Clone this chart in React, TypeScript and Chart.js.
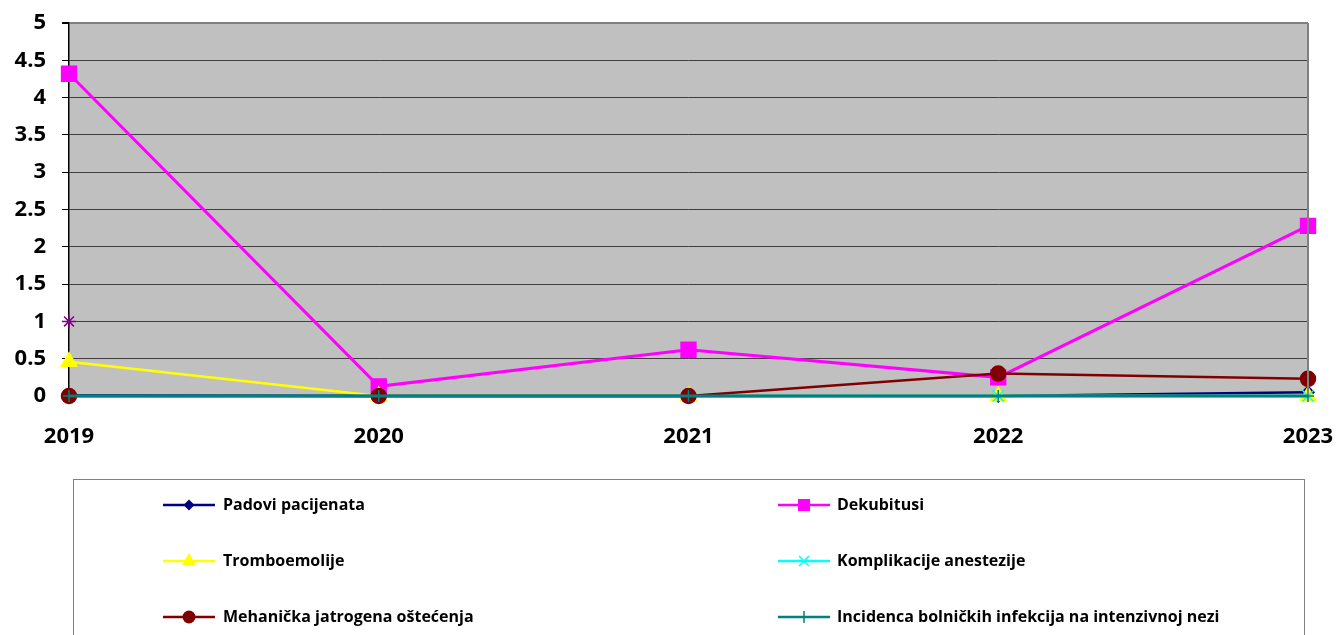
import React, { useEffect, useRef } from "react";
import { Chart, registerables } from "chart.js";

Chart.register(...registerables);

const years = ["2019", "2020", "2021", "2022", "2023"];
const padoviPacijenata = [0.01, 0, 0, 0, 0.05];
const dekubitusi = [4.32, 0.13, 0.62, 0.25, 2.28];
const tromboemolije = [0.46, 0, 0, 0, 0];
const komplikacijeAnestezije = [0, 0, 0, 0, 0];
const mehanickaOstecenja = [0, 0, 0, 0.3, 0.23];
const incidencaInfekcija = [0, 0, 0, 0, 0];
const sedmaSerija = [1, null, null, null, null];
const yTicks = [0, 0.5, 1, 1.5, 2, 2.5, 3, 3.5, 4, 4.5, 5];

const seriesNames = [
  "Padovi pacijenata",
  "Dekubitusi",
  "Tromboemolije",
  "Komplikacije anestezije",
  "Mehanička jatrogena oštećenja",
  "Incidenca bolničkih infekcija na intenzivnoj nezi",
];

const FONT = "'Open Sans', sans-serif";

function drawMarker(ctx: CanvasRenderingContext2D, style: string, r: number, x: number, y: number, color: string) {
  ctx.save();
  ctx.fillStyle = color;
  ctx.strokeStyle = color;
  ctx.lineWidth = 1.5;
  ctx.beginPath();
  if (style === "rectRot") {
    ctx.moveTo(x, y - r);
    ctx.lineTo(x + r, y);
    ctx.lineTo(x, y + r);
    ctx.lineTo(x - r, y);
    ctx.closePath();
    ctx.fill();
  } else if (style === "rect") {
    const s = r * Math.SQRT1_2;
    ctx.rect(x - s, y - s, 2 * s, 2 * s);
    ctx.fill();
  } else if (style === "triangle") {
    const h = (r * 3) / 2;
    const e = r * Math.sqrt(3);
    ctx.moveTo(x, y - r);
    ctx.lineTo(x + e / 2, y + h - r);
    ctx.lineTo(x - e / 2, y + h - r);
    ctx.closePath();
    ctx.fill();
  } else if (style === "circle") {
    ctx.arc(x, y, r, 0, Math.PI * 2);
    ctx.fill();
  } else if (style === "crossRot") {
    const o = r * Math.SQRT1_2;
    ctx.moveTo(x - o, y - o);
    ctx.lineTo(x + o, y + o);
    ctx.moveTo(x - o, y + o);
    ctx.lineTo(x + o, y - o);
    ctx.stroke();
  } else if (style === "cross") {
    ctx.moveTo(x, y - r);
    ctx.lineTo(x, y + r);
    ctx.moveTo(x - r, y);
    ctx.lineTo(x + r, y);
    ctx.stroke();
  }
  ctx.restore();
}

const legendMarkerRadius = [5.5, 8.5, 8, 7, 6.5, 6];

const plotPlugin = {
  id: "plotDecor",
  beforeDraw(chart: any) {
    const { ctx, chartArea } = chart;
    const { left, top, right, bottom } = chartArea;
    ctx.save();
    ctx.fillStyle = "#C0C0C0";
    ctx.fillRect(left, top, right - left, bottom - top);
    ctx.restore();
  },
  afterDatasetsDraw(chart: any) {
    const { ctx, chartArea } = chart;
    const { top, right, bottom } = chartArea;
    ctx.save();
    ctx.strokeStyle = "#808080";
    ctx.lineWidth = 2;
    ctx.beginPath();
    ctx.moveTo(right, top);
    ctx.lineTo(right, bottom - 1);
    ctx.stroke();
    ctx.restore();
  },
  afterDraw(chart: any) {
    const { ctx } = chart;
    ctx.save();
    // legend box
    ctx.strokeStyle = "#808080";
    ctx.lineWidth = 1;
    ctx.strokeRect(73.5, 479.5, 1231, 300);

    ctx.font = `bold 16px ${FONT}`;
    ctx.textBaseline = "middle";
    ctx.textAlign = "left";
    const ds = chart.data.datasets;
    for (let i = 0; i < seriesNames.length; i++) {
      const d = ds[i];
      const col = i % 2;
      const row = Math.floor(i / 2);
      const y = 505 + row * 56;
      const x0 = col === 0 ? 163 : 778;
      ctx.strokeStyle = d.borderColor;
      ctx.lineWidth = 2.5;
      ctx.beginPath();
      ctx.moveTo(x0, y);
      ctx.lineTo(x0 + 52, y);
      ctx.stroke();
      drawMarker(ctx, d.pointStyle, legendMarkerRadius[i], x0 + 26, y, d.pointBackgroundColor);
      ctx.fillStyle = "#000";
      ctx.fillText(seriesNames[i], col === 0 ? 223 : 837, y);
    }
    ctx.restore();
  },
};

export default function App() {
  const ref = useRef<HTMLCanvasElement>(null);
  useEffect(() => {
    if (!ref.current) return;
    const mk = (label: string, data: any[], color: string, style: string, r: number, bw: number, order: number) => ({
      label,
      data,
      borderColor: color,
      backgroundColor: color,
      pointBackgroundColor: color,
      pointBorderColor: color,
      pointStyle: style,
      pointRadius: r,
      pointBorderWidth: 1.5,
      borderWidth: bw,
      tension: 0,
      spanGaps: false,
      clip: false,
      order,
    });
    const chart = new Chart(ref.current, {
      type: "line",
      data: {
        labels: years,
        datasets: [
          mk(seriesNames[0], padoviPacijenata, "#000080", "rectRot", 6, 2.5, 10),
          mk(seriesNames[1], dekubitusi, "#FF00FF", "rect", 10.5, 3, 9),
          mk(seriesNames[2], tromboemolije, "#FFFF00", "triangle", 9, 2.5, 8),
          mk(seriesNames[3], komplikacijeAnestezije, "#00FFFF", "crossRot", 8, 2.5, 7),
          mk(seriesNames[4], mehanickaOstecenja, "#800000", "circle", 7.5, 2.5, 6),
          mk(seriesNames[5], incidencaInfekcija, "#008080", "cross", 6, 3, 5),
          mk("", sedmaSerija, "#800080", "star", 7, 2.5, 4),
        ],
      },
      options: {
        responsive: false,
        animation: false,
        layout: { padding: { left: 0, right: 28, top: 23, bottom: 0 } },
        plugins: { legend: { display: false }, tooltip: { enabled: false } },
        scales: {
          x: {
            offset: false,
            grid: { display: false },
            border: { display: true, color: "#000", width: 1 },
            ticks: { color: "#000", font: { family: FONT, weight: "bold", size: 22 }, padding: 20, maxRotation: 0, autoSkip: false },
            afterFit: (s: any) => {
              s.height = 239;
              s.paddingLeft = 0;
              s.paddingRight = 0;
            },
          },
          y: {
            min: 0,
            max: 5,
            afterBuildTicks: (s: any) => {
              s.ticks = yTicks.map((v) => ({ value: v }));
            },
            grid: {
              color: (c: any) => (c.tick && c.tick.value === 5 ? "#808080" : "#404040"),
              lineWidth: (c: any) => (c.tick && c.tick.value === 5 ? 2 : 1),
              tickLength: 7,
              tickColor: "#000",
            },
            border: { display: true, color: "#000", width: 1.5 },
            ticks: {
              color: "#000",
              font: { family: FONT, weight: "bold", size: 22 },
              padding: 16,
              callback: (v: any) => String(v),
            },
            afterFit: (s: any) => {
              s.width = 69;
              s.paddingTop = 0;
              s.paddingBottom = 0;
            },
          },
        },
      },
      plugins: [plotPlugin],
    });
    return () => chart.destroy();
  }, []);
  return (
    <div style={{ position: "fixed", left: 0, top: 0, width: 1336, height: 635, overflow: "hidden", background: "#fff" }}>
      <canvas ref={ref} width={1336} height={635} style={{ width: 1336, height: 635 }} />
    </div>
  );
}
